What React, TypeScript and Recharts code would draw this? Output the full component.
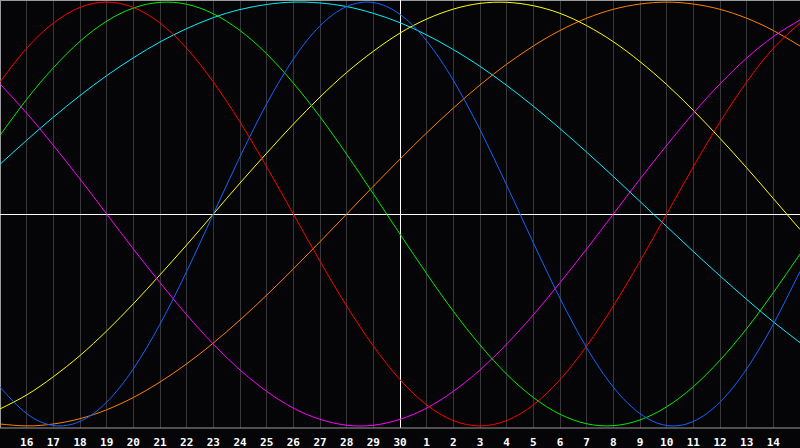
import { CartesianGrid, Line, LineChart, ReferenceLine, XAxis, YAxis } from 'recharts'

// day labels under the grid lines (previous month 16..30, then 1..14)
const DAY_LABELS = [
  '16', '17', '18', '19', '20', '21', '22', '23', '24', '25', '26', '27', '28', '29', '30',
  '1', '2', '3', '4', '5', '6', '7', '8', '9', '10', '11', '12', '13', '14',
]

// cycle values at each day step, from the left edge (step 0) to the right edge (step 30)
const physical = [
  -0.817, -0.942, -0.998, -0.979, -0.888, -0.731, -0.52, -0.271, 0.0, 0.27, 0.52, 0.731, 0.888,
  0.979, 0.998, 0.942, 0.817, 0.631, 0.398, 0.136, -0.136, -0.398, -0.631, -0.817, -0.942, -0.998,
  -0.979, -0.888, -0.731, -0.52, -0.271,
]
const emotional = [
  0.623, 0.782, 0.901, 0.975, 1.0, 0.975, 0.901, 0.782, 0.623, 0.434, 0.223, 0.0, -0.223, -0.434,
  -0.623, -0.782, -0.901, -0.975, -1.0, -0.975, -0.901, -0.782, -0.623, -0.434, -0.223, 0.0, 0.223,
  0.434, 0.623, 0.782, 0.901,
]
const intellectual = [
  0.371, 0.541, 0.69, 0.815, 0.91, 0.972, 0.999, 0.99, 0.945, 0.866, 0.756, 0.618, 0.459, 0.282,
  0.095, -0.095, -0.282, -0.459, -0.618, -0.756, -0.866, -0.945, -0.99, -0.999, -0.972, -0.91,
  -0.815, -0.69, -0.541, -0.371, -0.189,
]
const intuitive = [
  0.614, 0.476, 0.324, 0.165, 0.0, -0.165, -0.324, -0.476, -0.614, -0.736, -0.837, -0.916, -0.969,
  -0.997, -0.997, -0.969, -0.916, -0.837, -0.736, -0.614, -0.476, -0.324, -0.165, 0.0, 0.165, 0.324,
  0.476, 0.614, 0.736, 0.837, 0.916,
]
const aesthetic = [
  -0.92, -0.854, -0.768, -0.668, -0.552, -0.424, -0.287, -0.146, 0.0, 0.146, 0.287, 0.424, 0.552,
  0.668, 0.768, 0.854, 0.92, 0.967, 0.994, 0.999, 0.983, 0.947, 0.889, 0.813, 0.719, 0.611, 0.489,
  0.357, 0.218, 0.073, -0.073,
]
const awareness = [
  -0.991, -1.0, -0.991, -0.966, -0.924, -0.866, -0.793, -0.707, -0.609, -0.5, -0.383, -0.259,
  -0.131, 0.0, 0.131, 0.259, 0.383, 0.5, 0.609, 0.707, 0.793, 0.866, 0.924, 0.966, 0.991, 1.0,
  0.991, 0.966, 0.924, 0.866, 0.793,
]
const spiritual = [
  0.235, 0.348, 0.457, 0.559, 0.653, 0.737, 0.812, 0.875, 0.927, 0.965, 0.989, 1.0, 0.996, 0.979,
  0.947, 0.903, 0.845, 0.776, 0.697, 0.607, 0.509, 0.403, 0.292, 0.177, 0.059, -0.059, -0.177,
  -0.292, -0.403, -0.509, -0.607,
]

const SERIES = [
  { key: 'spiritual', color: '#00f0ff' },
  { key: 'awareness', color: '#ff8000' },
  { key: 'aesthetic', color: '#ffff00' },
  { key: 'intuitive', color: '#ff00ff' },
  { key: 'intellectual', color: '#00ee00' },
  { key: 'emotional', color: '#ff0000' },
  { key: 'physical', color: '#1464ff' },
]

const data = physical.map((_, i) => ({
  step: i,
  physical: physical[i],
  emotional: emotional[i],
  intellectual: intellectual[i],
  intuitive: intuitive[i],
  aesthetic: aesthetic[i],
  awareness: awareness[i],
  spiritual: spiritual[i],
}))

const TICKS = DAY_LABELS.map((_, i) => i + 1)

const DayTick = ({ x, y, payload }: { x: number; y: number; payload: { value: number } }) => (
  <text
    x={x}
    y={y + 10}
    textAnchor="middle"
    fill="#ffffff"
    fontFamily="DejaVu Sans Mono"
    fontWeight="bold"
    fontSize={11}
  >
    {DAY_LABELS[payload.value - 1]}
  </text>
)

export default function App() {
  return (
    <div style={{ width: 800, height: 448, background: '#050508' }}>
      <style>{'body{margin:0} .recharts-reference-line line, .recharts-cartesian-grid line{shape-rendering:crispEdges}'}</style>
      <LineChart width={800} height={448} data={data} margin={{ top: 0, right: 0, bottom: 0, left: 0 }}>
        <CartesianGrid horizontal={false} stroke="#38383c" strokeDasharray="" />
        <XAxis
          dataKey="step"
          type="number"
          domain={[0, 30]}
          ticks={TICKS}
          interval={0}
          height={20}
          tickLine={false}
          axisLine={{ stroke: '#9a9a9a' }}
          tick={DayTick}
        />
        <YAxis hide domain={[-1.01, 1.01]} />
        <ReferenceLine y={1.01} stroke="#9a9a9a" />
        <ReferenceLine x={0} stroke="#9a9a9a" />
        <ReferenceLine x={30} stroke="#9a9a9a" />
        <ReferenceLine x={15} stroke="#ffffff" />
        <ReferenceLine y={0} stroke="#ffffff" />
        {SERIES.map((s) => (
          <Line
            key={s.key}
            dataKey={s.key}
            type="natural"
            stroke={s.color}
            strokeWidth={1}
            dot={false}
            activeDot={false}
            isAnimationActive={false}
          />
        ))}
      </LineChart>
    </div>
  )
}
